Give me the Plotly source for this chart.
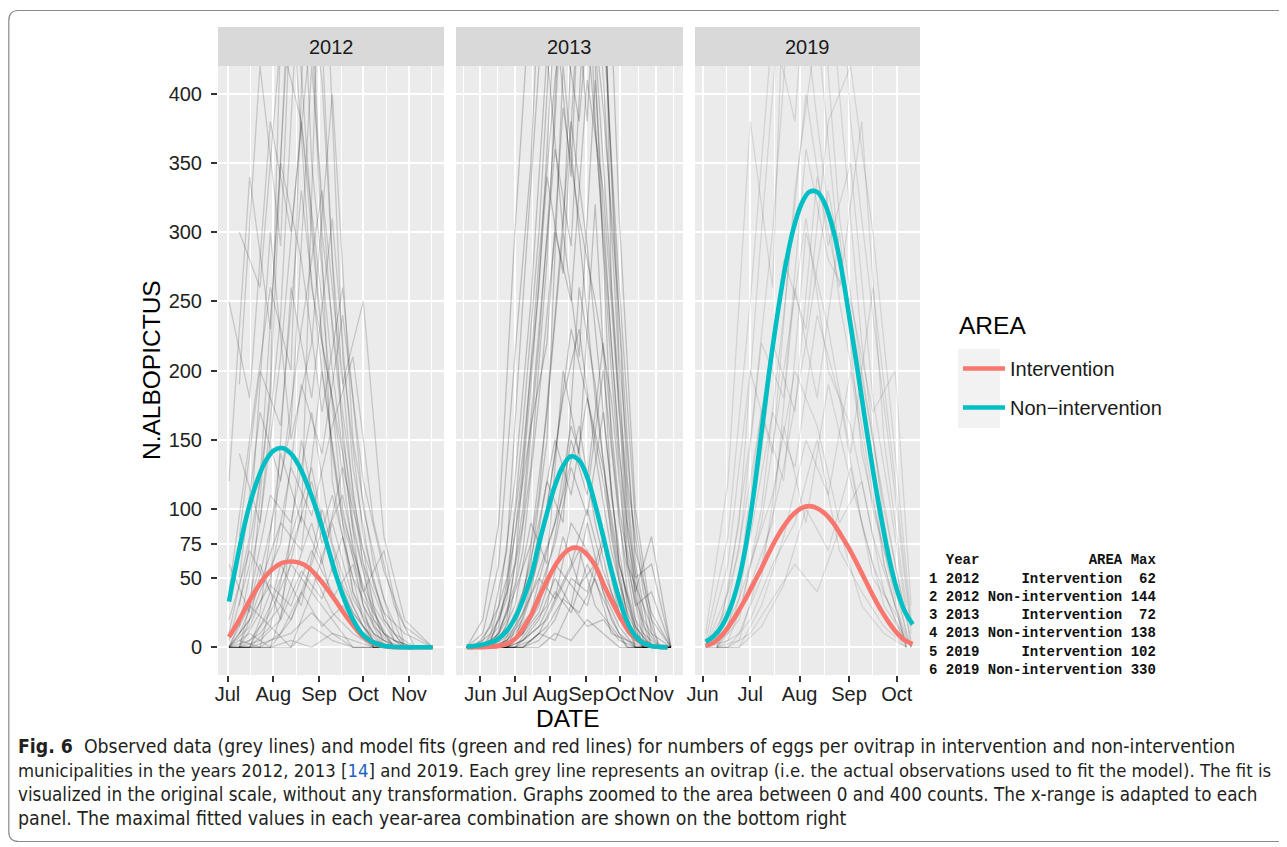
import plotly.graph_objects as go
import pandas as pd

# the page body has an 8px margin, so the figure is drawn 8px in and 8px down
OFF = 8
FW, FH = 1287 - OFF, 847 - OFF
def fx(px): return (px - OFF) / FW
def fy(py): return 1 - (py - OFF) / FH

YEARS = ['2012', '2013', '2019']
AREA_INT = 'Intervention'
AREA_NON = 'Non\u2212intervention'
COL_INT = '#F8766D'
COL_NON = '#00BFC4'

# ---------------- fitted curves (regular date grids) ----------------
FIT_2012_START, FIT_2012_STEP = '2012-07-02', 6
FIT_2012_NON = [33, 66, 95, 117, 133, 142, 144, 140, 130, 115, 97, 76, 54, 35, 20, 10, 4.5, 1.8, 0.6,
                0.2, 0, 0, 0, 0]
FIT_2012_INT = [7.5, 18, 30, 41, 50.5, 57, 61, 62, 61, 57.5, 51, 43, 34, 24.5, 16, 8.5, 3.8, 1.4, 0.4,
                0.1, 0, 0, 0, 0]

FIT_2013_START, FIT_2013_STEP = '2013-05-20', 7
FIT_2013_NON = [0.5, 1, 2, 3.5, 6.5, 12, 21, 34, 51, 75, 97, 117, 131, 138, 135, 123, 103, 80, 56, 35,
                18, 8, 3, 1, 0.3, 0]
FIT_2013_INT = [0, 0, 0.1, 0.4, 1, 2.5, 6, 13.5, 23, 36, 48, 59, 67, 71.5, 71.5, 67, 59, 46, 34, 23,
                13, 6.5, 2.8, 1, 0.3, 0]

FIT_2019_START, FIT_2019_STEP = '2019-06-03', 5
FIT_2019_NON = [4, 8, 15, 27, 45, 72, 110, 155, 200, 240, 275, 302, 320, 329, 329, 320, 302, 275, 240,
                203, 165, 128, 95, 65, 42, 26, 16.6]
FIT_2019_INT = [1, 3.5, 8.5, 16, 25, 35, 46, 57, 69, 80, 89, 96, 100.5, 102, 100.5, 96.5, 90, 81, 71.5,
                60.5, 49, 37.5, 27, 18, 10.5, 5, 2.5]

# ---------------- observed ovitrap series (grey lines, estimated) ----------------
OBS_2012_DATES_A = ['2012-07-02', '2012-07-16', '2012-07-30', '2012-08-13', '2012-08-27', '2012-09-10',
                    '2012-09-24', '2012-10-08', '2012-10-22', '2012-11-05']
OBS_2012_DATES_B = ['2012-07-09', '2012-07-23', '2012-08-06', '2012-08-20', '2012-09-03', '2012-09-17',
                    '2012-10-01', '2012-10-15', '2012-10-29', '2012-11-17']
OBS_2012_A = [
    [0, 20, 85, 160, 420, 230, 90, 20, 0, 0],
    [5, 60, 180, 520, 310, 140, 40, 10, 0, 0],
    [0, 0, 30, 70, 120, 60, 25, 5, 0, 0],
    [40, 150, 260, 200, 600, 280, 110, 30, 5, 0],
    [0, 10, 0, 45, 90, 35, 60, 0, 0, 0],
    [120, 340, 230, 480, 260, 180, 70, 15, 0, 0],
    [0, 0, 15, 0, 40, 20, 0, 0, 0, 0],
    [10, 80, 300, 150, 220, 400, 150, 60, 10, 0],
    [0, 35, 110, 90, 170, 75, 30, 0, 0, 0],
    [60, 25, 190, 700, 350, 200, 85, 25, 0, 0],
    [0, 0, 0, 20, 60, 110, 50, 20, 0, 0],
    [250, 180, 380, 300, 450, 120, 40, 0, 0, 0],
    [0, 15, 50, 130, 95, 160, 210, 90, 30, 0],
    [20, 70, 40, 260, 180, 310, 130, 45, 5, 0],
    [0, 0, 5, 10, 25, 10, 5, 0, 0, 0],
    [0, 0, 0, 5, 0, 10, 0, 0, 0, 0],
    [0, 20, 45, 30, 70, 40, 15, 0, 0, 0],
    [0, 5, 25, 60, 40, 90, 35, 10, 0, 0],
    [0, 0, 0, 0, 15, 5, 0, 0, 0, 0],
    [0, 30, 15, 80, 130, 55, 25, 5, 0, 0],
    [0, 0, 40, 20, 55, 25, 10, 0, 0, 0],
]
OBS_2012_B = [
    [15, 90, 210, 380, 250, 100, 30, 5, 0, 0],
    [0, 25, 140, 90, 560, 210, 80, 20, 0, 0],
    [80, 200, 160, 330, 200, 90, 40, 10, 0, 0],
    [0, 5, 20, 55, 35, 80, 20, 0, 0, 0],
    [190, 420, 290, 650, 300, 170, 60, 0, 0, 0],
    [0, 40, 75, 190, 140, 240, 120, 55, 15, 0],
    [5, 0, 60, 30, 100, 45, 15, 0, 0, 0],
    [30, 120, 350, 280, 170, 260, 100, 35, 0, 0],
    [0, 10, 30, 95, 60, 130, 70, 25, 10, 0],
    [140, 90, 240, 520, 410, 150, 60, 20, 0, 0],
    [0, 0, 10, 40, 15, 30, 10, 0, 0, 0],
    [50, 170, 120, 230, 330, 190, 250, 80, 20, 0],
    [0, 60, 20, 150, 75, 110, 40, 70, 0, 0],
    [300, 260, 440, 380, 220, 140, 30, 0, 0, 0],
    [10, 45, 90, 70, 200, 95, 45, 10, 0, 0],
]

OBS_2013_DATES_A = ['2013-05-20', '2013-06-03', '2013-06-17', '2013-07-01', '2013-07-15', '2013-07-29',
                    '2013-08-12', '2013-08-26', '2013-09-09', '2013-09-23', '2013-10-07', '2013-10-21',
                    '2013-11-04']
OBS_2013_DATES_B = ['2013-05-27', '2013-06-10', '2013-06-24', '2013-07-08', '2013-07-22', '2013-08-05',
                    '2013-08-19', '2013-09-02', '2013-09-16', '2013-09-30', '2013-10-14', '2013-10-28',
                    '2013-11-14']
OBS_2013_A = [
    [0, 0, 5, 20, 60, 150, 420, 300, 180, 90, 20, 0, 0],
    [0, 0, 10, 45, 130, 280, 510, 650, 380, 200, 60, 5, 0],
    [0, 0, 0, 10, 25, 70, 110, 160, 90, 40, 10, 0, 0],
    [0, 5, 30, 120, 250, 430, 300, 560, 420, 150, 40, 0, 0],
    [0, 0, 0, 0, 15, 30, 80, 45, 60, 20, 0, 0, 0],
    [0, 0, 20, 60, 190, 340, 270, 480, 900, 260, 80, 15, 0],
    [0, 0, 0, 5, 40, 100, 180, 230, 140, 70, 25, 0, 0],
    [0, 10, 60, 210, 350, 600, 450, 380, 520, 300, 90, 20, 0],
    [0, 0, 0, 0, 10, 20, 45, 70, 30, 15, 0, 0, 0],
    [0, 0, 15, 80, 160, 220, 390, 310, 250, 180, 60, 30, 0],
    [0, 0, 5, 30, 90, 60, 200, 140, 320, 110, 30, 0, 0],
    [0, 20, 90, 300, 480, 720, 560, 800, 600, 350, 120, 40, 0],
    [0, 0, 0, 15, 50, 120, 90, 260, 190, 80, 15, 0, 0],
    [0, 0, 10, 40, 75, 170, 300, 210, 410, 220, 70, 10, 0],
    [0, 0, 0, 0, 5, 15, 35, 25, 50, 10, 5, 0, 0],
]
OBS_2013_B = [
    [0, 0, 8, 35, 110, 240, 380, 290, 170, 60, 10, 0, 0],
    [0, 5, 40, 160, 300, 520, 700, 450, 300, 140, 35, 0, 0],
    [0, 0, 0, 10, 30, 80, 150, 110, 200, 90, 20, 0, 0],
    [0, 0, 25, 90, 220, 380, 600, 520, 350, 180, 50, 60, 0],
    [0, 0, 0, 5, 20, 50, 30, 90, 40, 15, 0, 0, 0],
    [0, 10, 50, 140, 260, 460, 340, 620, 480, 210, 70, 25, 0],
    [0, 0, 0, 25, 65, 140, 230, 180, 120, 50, 0, 0, 0],
    [0, 0, 15, 70, 180, 300, 250, 410, 330, 170, 40, 80, 0],
    [0, 0, 0, 0, 10, 35, 60, 100, 55, 25, 5, 0, 0],
    [0, 15, 70, 250, 420, 580, 800, 650, 450, 260, 90, 10, 0],
    [0, 0, 5, 20, 55, 90, 160, 120, 220, 100, 30, 40, 0],
    [0, 0, 0, 10, 40, 75, 130, 95, 170, 60, 15, 0, 0],
    [0, 0, 20, 100, 230, 360, 290, 500, 390, 240, 60, 0, 0],
    [0, 0, 0, 0, 5, 20, 50, 40, 80, 30, 0, 0, 0],
    [0, 5, 35, 130, 280, 410, 520, 380, 600, 310, 100, 20, 0],
    [0, 0, 0, 5, 15, 40, 25, 60, 35, 10, 0, 0, 0],
    [0, 0, 5, 25, 50, 35, 90, 70, 45, 20, 5, 0, 0],
    [0, 0, 0, 0, 0, 10, 5, 20, 10, 0, 0, 0, 0],
    [0, 0, 10, 40, 90, 150, 110, 180, 130, 60, 15, 0, 0],
    [0, 0, 0, 10, 25, 60, 45, 30, 75, 25, 5, 0, 0],
    [0, 0, 0, 0, 10, 5, 30, 15, 20, 5, 0, 0, 0],
]

OBS_2019_DATES_A = ['2019-06-03', '2019-06-17', '2019-07-01', '2019-07-15', '2019-07-29', '2019-08-12',
                    '2019-08-26', '2019-09-09', '2019-09-23', '2019-10-07']
OBS_2019_DATES_B = ['2019-06-10', '2019-06-24', '2019-07-08', '2019-07-22', '2019-08-05', '2019-08-19',
                    '2019-09-02', '2019-09-16', '2019-09-30', '2019-10-10']
OBS_2019_A = [
    [0, 40, 150, 300, 520, 380, 250, 160, 60, 0],
    [0, 10, 60, 110, 200, 160, 90, 120, 40, 0],
    [5, 80, 250, 450, 380, 600, 400, 220, 90, 10],
    [0, 0, 20, 60, 90, 150, 70, 40, 15, 0],
    [0, 30, 120, 220, 170, 340, 260, 380, 150, 30],
    [0, 5, 45, 90, 260, 180, 300, 140, 70, 0],
    [10, 120, 380, 260, 700, 520, 310, 200, 100, 20],
    [0, 0, 10, 35, 60, 40, 85, 30, 10, 0],
    [0, 60, 200, 140, 330, 450, 280, 190, 60, 0],
    [0, 15, 80, 170, 130, 240, 180, 90, 30, 5],
]
OBS_2019_B = [
    [0, 20, 100, 240, 400, 290, 350, 180, 80, 0],
    [5, 50, 170, 120, 300, 230, 140, 260, 120, 15],
    [0, 0, 30, 80, 150, 110, 200, 100, 40, 0],
    [0, 90, 300, 500, 420, 650, 380, 240, 110, 10],
    [0, 10, 50, 160, 90, 190, 120, 60, 20, 0],
    [0, 35, 140, 280, 230, 380, 420, 300, 140, 20],
    [0, 0, 15, 45, 100, 70, 130, 50, 25, 0],
    [10, 70, 220, 180, 360, 280, 250, 170, 200, 30],
    [0, 25, 90, 200, 310, 200, 160, 80, 30, 0],
    [0, 5, 60, 130, 220, 330, 240, 150, 60, 5],
]

# ---------------- axis settings ----------------
Y_TICKS = [0, 50, 75, 100, 150, 200, 250, 300, 350, 400]
Y_RANGE = [-20, 420]
X_RANGES = [['2012-06-24 13:00', '2012-11-24 17:00'],
            ['2013-05-10 17:00', '2013-11-24 12:00'],
            ['2019-05-27 07:00', '2019-10-15 14:00']]
X_TICKS = [['2012-07-01', '2012-08-01', '2012-09-01', '2012-10-01', '2012-11-01'],
           ['2013-06-01', '2013-07-01', '2013-08-01', '2013-09-01', '2013-10-01', '2013-11-01'],
           ['2019-06-01', '2019-07-01', '2019-08-01', '2019-09-01', '2019-10-01']]
X_TICKTEXT = [['Jul', 'Aug', 'Sep', 'Oct', 'Nov'],
              ['Jun', 'Jul', 'Aug', 'Sep', 'Oct', 'Nov'],
              ['Jun', 'Jul', 'Aug', 'Sep', 'Oct']]

TABLE_YEAR = ['2012', '2012', '2013', '2013', '2019', '2019']
TABLE_AREA = ['Intervention', 'Non-intervention'] * 3
TABLE_MAX = [62, 144, 72, 138, 102, 330]

PANEL_PX = [(218, 444), (456, 683), (695, 920)]
PANEL_TOP, PANEL_BOT, STRIP_TOP = 66, 675, 27

obs = [
    (OBS_2012_DATES_A, OBS_2012_A, OBS_2012_DATES_B, OBS_2012_B, 0.16),
    (OBS_2013_DATES_A, OBS_2013_A, OBS_2013_DATES_B, OBS_2013_B, 0.2),
    (OBS_2019_DATES_A, OBS_2019_A, OBS_2019_DATES_B, OBS_2019_B, 0.10),
]
fits = [
    (FIT_2012_START, FIT_2012_STEP, FIT_2012_INT, FIT_2012_NON),
    (FIT_2013_START, FIT_2013_STEP, FIT_2013_INT, FIT_2013_NON),
    (FIT_2019_START, FIT_2019_STEP, FIT_2019_INT, FIT_2019_NON),
]

fig = go.Figure()
for i in range(3):
    xa = 'x' if i == 0 else f'x{i+1}'
    ya = 'y' if i == 0 else f'y{i+1}'
    da, la, db, lb, alpha = obs[i]
    for dates, lines in ((da, la), (db, lb)):
        for vals in lines:
            fig.add_trace(go.Scatter(x=dates, y=vals, mode='lines', xaxis=xa, yaxis=ya,
                                     line=dict(color=f'rgba(0,0,0,{alpha})', width=1.3),
                                     showlegend=False, hoverinfo='skip'))
for i in range(3):
    xa = 'x' if i == 0 else f'x{i+1}'
    ya = 'y' if i == 0 else f'y{i+1}'
    start, step, vi, vn = fits[i]
    di = pd.date_range(start, periods=len(vi), freq=f'{step}D')
    dn = pd.date_range(start, periods=len(vn), freq=f'{step}D')
    fig.add_trace(go.Scatter(x=di, y=vi, mode='lines', xaxis=xa, yaxis=ya, name=AREA_INT,
                             legendgroup='int', showlegend=(i == 0),
                             line=dict(color=COL_INT, width=4.6, shape='spline', smoothing=1.0)))
    fig.add_trace(go.Scatter(x=dn, y=vn, mode='lines', xaxis=xa, yaxis=ya, name=AREA_NON,
                             legendgroup='non', showlegend=(i == 0),
                             line=dict(color=COL_NON, width=4.6, shape='spline', smoothing=1.0)))

SANS = 'Liberation Sans, Arial, sans-serif'
TICKFONT = dict(family=SANS, size=20, color='#222222')
layout = dict(width=FW, height=FH, margin=dict(l=0, r=0, t=0, b=0), autosize=False,
              paper_bgcolor='white', plot_bgcolor='#EBEBEB', showlegend=True)

for i in range(3):
    x0, x1 = PANEL_PX[i]
    ticks = X_TICKS[i]
    mt = list(pd.to_datetime(ticks))
    allm = [mt[0] - (mt[1] - mt[0])] + mt + [mt[-1] + (mt[-1] - mt[-2])]
    minor = [(a + (b - a) / 2).strftime('%Y-%m-%d %H:%M') for a, b in zip(allm[:-1], allm[1:])]
    xkey = 'xaxis' if i == 0 else f'xaxis{i+1}'
    ykey = 'yaxis' if i == 0 else f'yaxis{i+1}'
    yname = 'y' if i == 0 else f'y{i+1}'
    xname = 'x' if i == 0 else f'x{i+1}'
    layout[xkey] = dict(domain=[fx(x0), fx(x1)], anchor=yname, type='date', range=X_RANGES[i],
                        tickmode='array', tickvals=ticks, ticktext=X_TICKTEXT[i], tickangle=0,
                        ticks='outside', ticklen=6, tickwidth=2, tickcolor='#333333',
                        ticklabelstandoff=-5,
                        tickfont=TICKFONT, showgrid=True, gridcolor='white', gridwidth=2.2,
                        zeroline=False, showline=False, automargin=False, fixedrange=True,
                        minor=dict(tickvals=minor, showgrid=True, gridcolor='white', gridwidth=1.1,
                                   ticks=''))
    layout[ykey] = dict(domain=[fy(PANEL_BOT), fy(PANEL_TOP)], anchor=xname, range=Y_RANGE,
                        tickmode='array', tickvals=Y_TICKS, showgrid=True, gridcolor='white',
                        gridwidth=2.2, zeroline=False, showline=False, automargin=False,
                        ticks='outside' if i == 0 else '', ticklen=6, tickwidth=2,
                        ticklabelstandoff=5,
                        tickcolor='#333333', showticklabels=(i == 0), tickfont=TICKFONT)

shapes = []
annotations = []
for i in range(3):
    x0, x1 = PANEL_PX[i]
    shapes.append(dict(type='rect', xref='paper', yref='paper', x0=fx(x0), x1=fx(x1),
                       y0=fy(PANEL_TOP), y1=fy(STRIP_TOP), fillcolor='#D9D9D9', line=dict(width=0),
                       layer='below'))
    annotations.append(dict(text=YEARS[i], xref='paper', yref='paper', x=fx((x0 + x1) / 2),
                            y=fy((PANEL_TOP + STRIP_TOP) / 2), showarrow=False,
                            font=dict(family=SANS, size=20, color='#1a1a1a'),
                            xanchor='center', yanchor='middle'))

# axis titles
annotations.append(dict(text='N.ALBOPICTUS', xref='paper', yref='paper', x=fx(151), y=fy(370),
                        textangle=-90, showarrow=False, xanchor='center', yanchor='middle',
                        font=dict(family=SANS, size=24.5, color='black')))
annotations.append(dict(text='DATE', xref='paper', yref='paper', x=fx(568), y=fy(718),
                        showarrow=False, xanchor='center', yanchor='middle',
                        font=dict(family=SANS, size=24.5, color='black')))
# legend title
annotations.append(dict(text='AREA', xref='paper', yref='paper', x=fx(957), y=fy(325),
                        showarrow=False, xanchor='left', yanchor='middle',
                        font=dict(family=SANS, size=24.5, color='black')))

# legend key background
shapes.append(dict(type='rect', xref='paper', yref='paper', x0=fx(958), x1=fx(1000),
                   y0=fy(428), y1=fy(349), fillcolor='#F2F2F2', line=dict(width=0), layer='below'))

# table of maxima
mono = dict(family='Liberation Mono, DejaVu Sans Mono, monospace', size=14, color='#111111')
NB = '\u00a0'
rows = [NB + NB + 'Year'.ljust(4) + NB + 'AREA'.rjust(16) + NB + 'Max']
for k in range(6):
    rows.append(f"{k+1} {TABLE_YEAR[k]} {TABLE_AREA[k].rjust(16)} {str(TABLE_MAX[k]).rjust(3)}")
row_y = [560, 578.5, 596.8, 615, 633.3, 651.6, 670]
for r, yy in zip(rows, row_y):
    annotations.append(dict(text='<b>' + r.replace(' ', NB) + '</b>', xref='paper', yref='paper',
                            x=fx(1158), y=fy(yy), showarrow=False, xanchor='right', yanchor='middle',
                            font=mono))

# caption
CAPTION = [
    "<b>Fig. 6</b>\u00a0 Observed data (grey lines) and model fits (green and red lines) for numbers of eggs per ovitrap in intervention and non-intervention",
    "municipalities in the years 2012, 2013 [<span style='color:#2060c0'>14</span>] and 2019. Each grey line represents an ovitrap (i.e. the actual observations used to fit the model). The fit is",
    "visualized in the original scale, without any transformation. Graphs zoomed to the area between 0 and 400 counts. The x-range is adapted to each",
    "panel. The maximal fitted values in each year-area combination are shown on the bottom right",
]
CAPTION_SIZE = [19.3, 18.35, 18.7, 19.35]
for txt, yy, sz in zip(CAPTION, [746, 770, 794, 818], CAPTION_SIZE):
    annotations.append(dict(text=txt, xref='paper', yref='paper', x=fx(16), y=fy(yy), showarrow=False,
                            xanchor='left', yanchor='middle',
                            font=dict(family='DejaVu Sans Condensed, Liberation Sans Narrow, sans-serif',
                                      size=sz, color='#231f20')))

# outer frame with rounded corner
r = 10
lx, ty, by = 8.8, 10.5, 841.5
path = (f"M {fx(1300)},{fy(ty)} L {fx(lx + r)},{fy(ty)} Q {fx(lx)},{fy(ty)} {fx(lx)},{fy(ty + r)} "
        f"L {fx(lx)},{fy(by - r)} Q {fx(lx)},{fy(by)} {fx(lx + r)},{fy(by)} L {fx(1300)},{fy(by)}")
shapes.append(dict(type='path', xref='paper', yref='paper', path=path,
                   line=dict(color='#8a8a8a', width=1.2)))

layout['shapes'] = shapes
layout['annotations'] = annotations
layout['legend'] = dict(x=fx(958), y=fy(349), xanchor='left', yanchor='top',
                        font=dict(family=SANS, size=20, color='#1a1a1a'),
                        bgcolor='rgba(0,0,0,0)', tracegroupgap=10, itemwidth=42)
fig.update_layout(**layout)
fig.write_html('out.html')
